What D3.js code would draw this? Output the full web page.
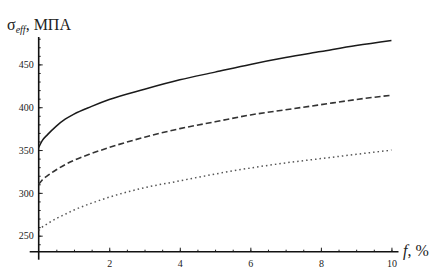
<!DOCTYPE html>
<html>
<head>
<meta charset="utf-8">
<script src="https://cdn.jsdelivr.net/npm/d3@7"></script>
<style>
  body { margin: 0; background: #fff; }
  svg { display: block; }
  text { font-family: "Liberation Serif", "DejaVu Serif", serif; fill: #222; }
</style>
</head>
<body>
<svg id="chart"></svg>
<script>
// values
const fValues   = [0, 0.1, 0.25, 0.5, 0.75, 1, 1.5, 2, 3, 4, 5, 6, 7, 8, 9, 10];
const sigmaTop  = [353, 361, 368, 378, 386, 392, 401, 409, 421, 432, 441, 450, 458, 465, 472, 478];
const sigmaMid  = [310, 315, 320, 327, 333, 338, 346, 353, 365, 375, 383, 391, 397, 403, 409, 414];
const sigmaLow  = [256, 260, 264, 270, 275, 280, 288, 295, 306, 314, 322, 329, 335, 340, 345, 350];
const xTicks = [2, 4, 6, 8, 10];
const yTicks = [250, 300, 350, 400, 450];

const width = 437;
const height = 269;

const svg = d3.select("#chart")
              .attr("width", width)
              .attr("height", height);

const xScale = d3.scaleLinear()
                 .domain([0, 10.2])
                 .range([38.7, 398.5]);

const yScale = d3.scaleLinear()
                 .domain([231.3, 482])
                 .range([251.7, 37]);

const x0 = xScale(0);
const y0 = yScale(231.3);

// minor ticks
svg.append("g")
   .attr("transform", `translate(0, ${y0})`)
   .call(d3.axisBottom(xScale).tickValues(d3.range(0.5, 10.1, 0.5)).tickSizeInner(-2).tickSizeOuter(0).tickFormat(""))
   .call(g => g.select(".domain").remove());

svg.append("g")
   .attr("transform", `translate(${x0}, 0)`)
   .call(d3.axisLeft(yScale).tickValues(d3.range(240, 481, 10)).tickSizeInner(-2).tickSizeOuter(0).tickFormat(""))
   .call(g => g.select(".domain").remove());

// major ticks
svg.append("g")
   .attr("transform", `translate(0, ${y0})`)
   .call(d3.axisBottom(xScale).tickValues(xTicks).tickSizeInner(-4).tickSizeOuter(0).tickPadding(8))
   .call(g => g.select(".domain").remove())
   .call(g => g.selectAll("text").style("font-size", "10px").style("font-family", "Liberation Serif, serif").attr("fill", "#333"));

svg.append("g")
   .attr("transform", `translate(${x0}, 0)`)
   .call(d3.axisLeft(yScale).tickValues(yTicks).tickSizeInner(-4).tickSizeOuter(0).tickPadding(5))
   .call(g => g.select(".domain").remove())
   .call(g => g.selectAll("text").style("font-size", "10px").style("font-family", "Liberation Serif, serif").attr("fill", "#333"));

svg.selectAll(".tick line").attr("stroke", "#222");

// axis lines (they overhang a little past the origin)
svg.append("line")
   .attr("x1", x0 - 9).attr("x2", xScale(10.2))
   .attr("y1", y0).attr("y2", y0)
   .attr("stroke", "#111").attr("stroke-width", 1.6);

svg.append("line")
   .attr("x1", x0).attr("x2", x0)
   .attr("y1", yScale(482)).attr("y2", y0 + 8)
   .attr("stroke", "#111").attr("stroke-width", 1.6);

// curves
const series = [
  { values: sigmaTop, dash: null,  color: "#1a1a1a", w: 1.5 },
  { values: sigmaMid, dash: "6,3", color: "#333",    w: 1.6 },
  { values: sigmaLow, dash: "1.5,3", color: "#555",  w: 1.5 }
];

const line = d3.line()
               .x(d => xScale(d[0]))
               .y(d => yScale(d[1]))
               .curve(d3.curveMonotoneX);

svg.selectAll(".curve")
   .data(series)
   .enter()
   .append("path")
   .attr("class", "curve")
   .attr("d", s => line(fValues.map((f, i) => [f, s.values[i]])))
   .attr("fill", "none")
   .attr("stroke", s => s.color)
   .attr("stroke-width", s => s.w)
   .attr("stroke-dasharray", s => s.dash);

// axis titles
const yTitle = svg.append("text")
                  .attr("x", 7)
                  .attr("y", 30)
                  .style("font-size", "16px");
yTitle.append("tspan").text("σ");
yTitle.append("tspan").attr("dy", 3).style("font-size", "10px").style("font-style", "italic").text("eff");
yTitle.append("tspan").attr("dy", -3).text(", МПА");

const xTitle = svg.append("text")
                  .attr("x", 403)
                  .attr("y", 256)
                  .style("font-size", "16px");
xTitle.append("tspan").style("font-style", "italic").text("f");
xTitle.append("tspan").text(", %");
</script>
</body>
</html>
